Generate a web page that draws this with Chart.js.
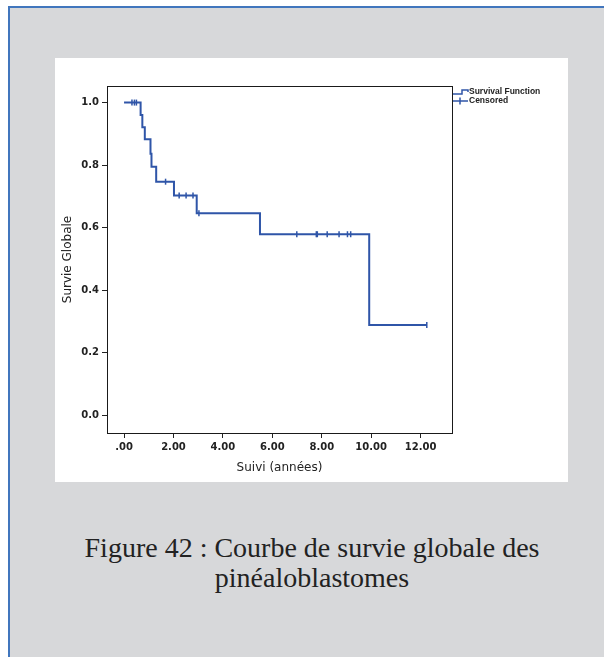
<!DOCTYPE html>
<html><head><meta charset="utf-8">
<script src="https://cdn.jsdelivr.net/npm/chart.js@4.4.1/dist/chart.umd.min.js"></script>
<style>
html,body{margin:0;padding:0;background:#fff;width:604px;height:657px;overflow:hidden;}
#frame{position:absolute;left:8px;top:6px;width:640px;height:700px;background:#d7d8da;border-left:2px solid #4176bd;border-top:2px solid #4176bd;}
#panel{position:absolute;left:55px;top:58px;width:513px;height:424px;background:#fff;}
#caption{position:absolute;left:12px;width:600px;top:533px;text-align:center;font-family:"Liberation Serif","Times New Roman",serif;font-size:28px;line-height:30px;color:#222;}
</style></head>
<body>
<div id="frame"></div>
<div id="panel"><canvas id="c" width="513" height="424"></canvas></div>
<div id="caption">Figure 42 : Courbe de survie globale des<br>pinéaloblastomes</div>
<script>
// Kaplan-Meier step points (time in years, survival after that time)
const eventTimes = [0, 0.67, 0.74, 0.84, 1.07, 1.11, 1.30, 2.02, 2.94, 5.50, 9.92, 12.25];
const survival   = [1.0, 0.960, 0.921, 0.883, 0.836, 0.795, 0.747, 0.703, 0.646, 0.579, 0.289, 0.289];
// Censored observations
const censoredTimes = [0.32, 0.42, 0.50, 1.68, 2.23, 2.51, 2.79, 3.03, 6.99, 7.78, 7.82, 8.22, 8.70, 9.04, 9.17, 12.25];
const censoredSurv  = [1.0, 1.0, 1.0, 0.747, 0.703, 0.703, 0.703, 0.646, 0.579, 0.579, 0.579, 0.579, 0.579, 0.579, 0.579, 0.289];
// Axis ticks
const xTickValues = [0, 2, 4, 6, 8, 10, 12];
const xTickLabels = ['.00', '2.00', '4.00', '6.00', '8.00', '10.00', '12.00'];
const yTickValues = [0, 0.2, 0.4, 0.6, 0.8, 1.0];
const yTickLabels = ['0.0', '0.2', '0.4', '0.6', '0.8', '1.0'];
const seriesNames = ['Survival Function', 'Censored'];

const LINE = '#2f55a8';
const tickFont = {family: '"DejaVu Sans", sans-serif', size: 10, weight: 'bold'};
const titleFont = {family: '"DejaVu Sans", sans-serif', size: 12};

const framePlugin = {
  id: 'frame',
  afterDraw(chart) {
    const {ctx, chartArea: a} = chart;
    ctx.save();
    ctx.strokeStyle = '#1a1a1a';
    ctx.lineWidth = 1;
    ctx.strokeRect(Math.round(a.left) + 0.5, Math.round(a.top) + 0.5, Math.round(a.right - a.left), Math.round(a.bottom - a.top));
    // legend
    const x0 = a.right + 1, y1 = a.top + 6, y2 = a.top + 15;
    ctx.strokeStyle = LINE;
    ctx.lineWidth = 1.5;
    ctx.beginPath();
    ctx.moveTo(x0, y1 + 2); ctx.lineTo(x0 + 9, y1 + 2); ctx.lineTo(x0 + 9, y1 - 2); ctx.lineTo(x0 + 15, y1 - 2); ctx.lineTo(x0 + 15, y1);
    ctx.stroke();
    ctx.beginPath();
    ctx.moveTo(x0, y2); ctx.lineTo(x0 + 15, y2);
    ctx.moveTo(x0 + 7, y2 - 3.5); ctx.lineTo(x0 + 7, y2 + 3.5);
    ctx.stroke();
    ctx.fillStyle = '#222';
    ctx.font = 'bold 8.5px "Liberation Sans", Arial, sans-serif';
    ctx.textBaseline = 'middle';
    ctx.textAlign = 'left';
    ctx.fillText(seriesNames[0], x0 + 16, y1);
    ctx.fillText(seriesNames[1], x0 + 16, y2);
    ctx.restore();
  }
};

new Chart(document.getElementById('c'), {
  type: 'line',
  data: {
    datasets: [
      {
        label: seriesNames[0],
        data: eventTimes.map((t, i) => ({x: t, y: survival[i]})),
        stepped: 'before',
        borderColor: LINE,
        borderWidth: 2,
        pointRadius: 0,
        fill: false
      },
      {
        label: seriesNames[1],
        data: censoredTimes.map((t, i) => ({x: t, y: censoredSurv[i]})),
        showLine: false,
        pointStyle: 'line',
        rotation: 90,
        pointRadius: 3,
        borderColor: LINE,
        borderWidth: 1.5,
        pointHoverRadius: 3
      }
    ]
  },
  options: {
    responsive: false,
    animation: false,
    devicePixelRatio: 1,
    layout: {padding: {top: 28, right: 116, left: 0, bottom: 0}},
    plugins: {legend: {display: false}, tooltip: {enabled: false}},
    scales: {
      x: {
        type: 'linear',
        min: -0.69, max: 13.27,
        afterFit: s => { s.height = 49; },
        afterBuildTicks: s => { s.ticks = xTickValues.map(v => ({value: v})); },
        ticks: {
          font: tickFont, color: '#222', padding: 3, maxRotation: 0, autoSkip: false,
          callback: (v) => { const i = xTickValues.indexOf(v); return i >= 0 ? xTickLabels[i] : ''; }
        },
        grid: {drawOnChartArea: false, drawTicks: true, tickLength: 5, color: '#222', tickWidth: 1},
        border: {display: true, color: '#1a1a1a', width: 1},
        title: {display: true, text: 'Suivi (années)', font: titleFont, color: '#222', padding: {top: 0, bottom: 7}}
      },
      y: {
        type: 'linear',
        min: -0.0566, max: 1.053,
        afterFit: s => { s.width = 52; },
        afterBuildTicks: s => { s.ticks = yTickValues.map(v => ({value: v})); },
        ticks: {
          font: tickFont, color: '#222', padding: 3, autoSkip: false,
          callback: (v) => { const i = yTickValues.findIndex(t => Math.abs(t - v) < 1e-9); return i >= 0 ? yTickLabels[i] : ''; }
        },
        grid: {drawOnChartArea: false, drawTicks: true, tickLength: 5, color: '#222', tickWidth: 1},
        border: {display: true, color: '#1a1a1a', width: 1},
        title: {display: true, text: 'Survie Globale', font: titleFont, color: '#222', padding: {top: 6, bottom: 0}}
      }
    }
  },
  plugins: [framePlugin]
});
</script>
</body></html>
